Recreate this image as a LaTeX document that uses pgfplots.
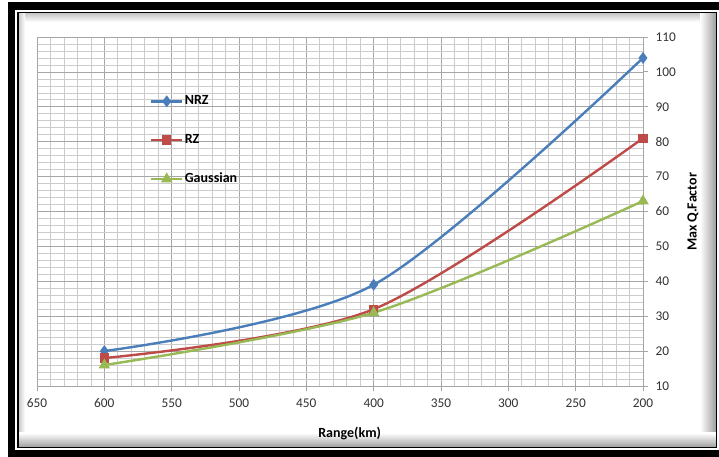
\documentclass[border=0pt]{standalone}
\usepackage{pgfplots}
\pgfplotsset{compat=1.18}
\usepackage{fontspec}
\setmainfont{Carlito}
\definecolor{nrzblue}{HTML}{4A7EBB}
\definecolor{rzred}{HTML}{BE4B48}
\definecolor{gaugreen}{HTML}{98B954}
\begin{document}
\begin{tikzpicture}
\useasboundingbox (0,0) rectangle (539.25pt,342.75pt);
\clip (0,0) rectangle (539.25pt,342.75pt);
\begin{scope}[x=0.75pt,y=-0.75pt,yshift=342.75pt]
\fill[white] (0,0) rectangle (719,457);
\shade[top color=gray!45, bottom color=white] (19,13) rectangle (716,22);
\shade[left color=gray!40, right color=white] (19,13) rectangle (25,447);
\shade[left color=white, right color=gray!75] (700,13) rectangle (716,447);
\shade[top color=white, bottom color=gray!75] (19,433) rectangle (716,447);
\draw[line width=5.6pt] (11.5,6) rectangle (724,454);
\draw[line width=1.1pt] (18,12.5) rectangle (716.5,447.5);
\end{scope}
\begin{axis}[
  at={(27.75pt,53.25pt)}, anchor=south west,
  scale only axis, width=454.5pt, height=261.75pt,
  x dir=reverse,
  xmin=200, xmax=650, ymin=10, ymax=110,
  xtick={200,250,...,650}, ytick={10,20,...,110},
  minor x tick num=4, minor y tick num=4,
  grid=both,
  major grid style={gray!70, line width=0.5pt},
  minor grid style={gray!40, line width=0.5pt},
  axis line style={gray!70, line width=0.6pt},
  tick style={gray!70, line width=0.6pt},
  tick align=outside, major tick length=4pt, minor tick length=0pt,
  xtick pos=bottom, ytick pos=right,
  yticklabel pos=right,
  ticklabel style={font=\fontsize{10}{12}\selectfont, text=black!80},
  /pgf/number format/assume math mode=true,
  xticklabel style={yshift=-2pt},
  yticklabel style={xshift=2pt},
  xlabel={Range(km)}, ylabel={Max Q.Factor},
  every axis x label/.style={at={(axis description cs:0.516,-0.135)}, anchor=center, font=\fontsize{10.5}{12}\selectfont\bfseries},
  every axis y label/.style={at={(axis description cs:1.0825,0.4986)}, anchor=center, rotate=90, font=\fontsize{10.5}{12}\selectfont\bfseries},
  legend style={draw=none, fill=none, at={(axis description cs:0.186,0.84)}, anchor=north west,
    row sep=16.7pt, font=\fontsize{10.5}{12}\selectfont\bfseries, inner sep=0pt,
    nodes={inner xsep=1pt}},
  legend cell align=left,
  legend image code/.code={\draw[mark repeat=2,mark phase=2] plot coordinates {(0cm,0cm) (0.41cm,0cm) (0.82cm,0cm)};},
]
\addplot[color=nrzblue, line width=1.8pt, smooth, mark=diamond*, mark size=3pt, mark options={solid}] coordinates {(600,20) (400,39) (200,104)};
\addlegendentry{NRZ}
\addplot[color=rzred, line width=1.8pt, smooth, mark=square*, mark size=2.6pt, mark options={solid}] coordinates {(600,18) (400,32) (200,81)};
\addlegendentry{RZ}
\addplot[color=gaugreen, line width=1.8pt, smooth, mark=triangle*, mark size=3.2pt, mark options={solid}] coordinates {(600,16) (400,31) (200,63)};
\addlegendentry{Gaussian}
\end{axis}
\end{tikzpicture}
\end{document}
